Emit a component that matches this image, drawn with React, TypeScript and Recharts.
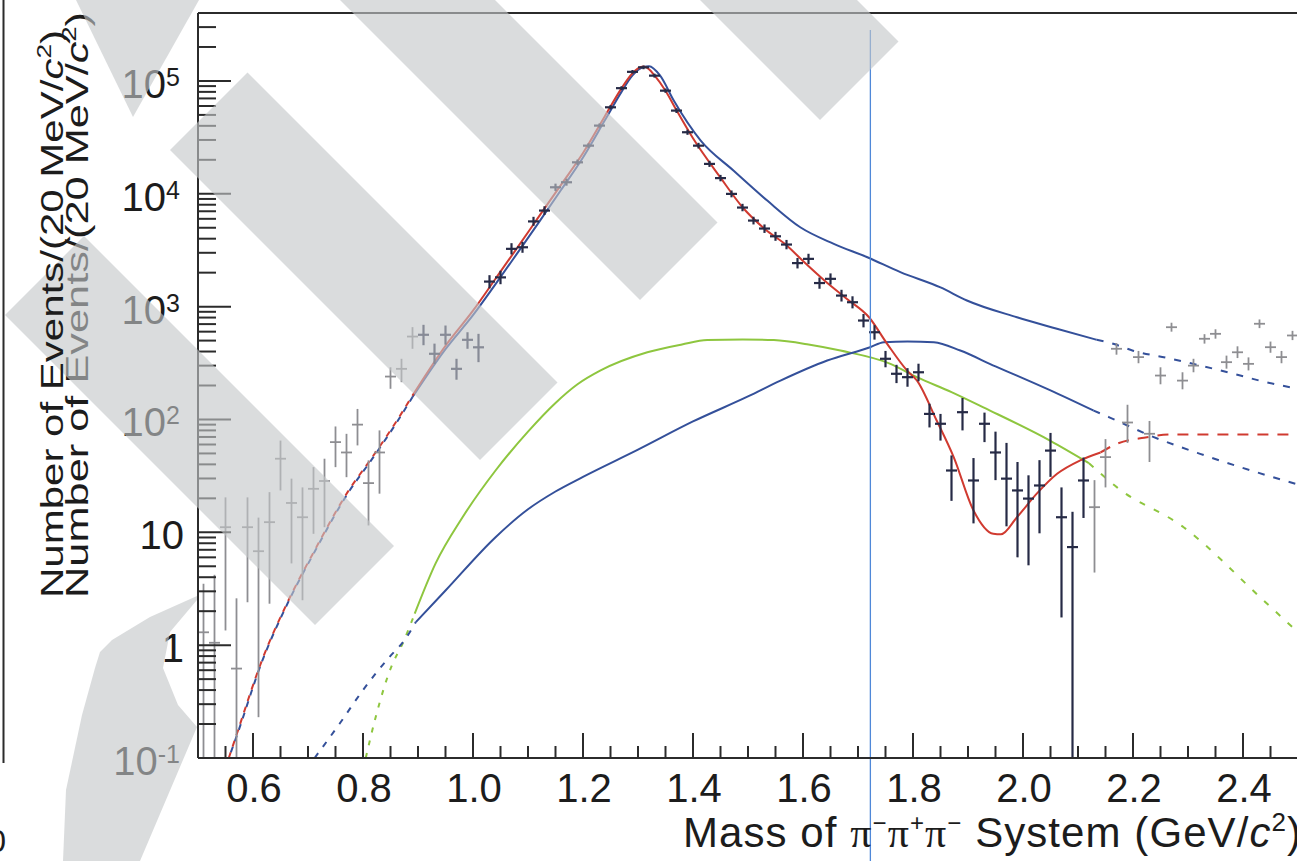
import React from 'react';
import { ComposedChart, Line, Scatter, XAxis, YAxis, ErrorBar, ReferenceLine } from 'recharts';

// ---------- axes ----------
const X_DOMAIN: [number, number] = [0.5, 2.5];
const Y_DOMAIN: [number, number] = [0.1, 4e5];
const X_MAJOR_TICKS = [0.6, 0.8, 1.0, 1.2, 1.4, 1.6, 1.8, 2.0, 2.2, 2.4];
const X_MINOR_TICKS = [0.55, 0.65, 0.7, 0.75, 0.85, 0.9, 0.95, 1.05, 1.1, 1.15, 1.25, 1.3, 1.35, 1.45, 1.5, 1.55, 1.65, 1.7, 1.75, 1.85, 1.9, 1.95, 2.05, 2.1, 2.15, 2.25, 2.3, 2.35, 2.45];
const Y_MAJOR_TICKS = [0.1, 1, 10, 100, 1000, 1e4, 1e5];
const Y_MINOR_TICKS = [
  0.2, 0.3, 0.4, 0.5, 0.6, 0.7, 0.8, 0.9,
  2, 3, 4, 5, 6, 7, 8, 9,
  20, 30, 40, 50, 60, 70, 80, 90,
  200, 300, 400, 500, 600, 700, 800, 900,
  2000, 3000, 4000, 5000, 6000, 7000, 8000, 9000,
  2e4, 3e4, 4e4, 5e4, 6e4, 7e4, 8e4, 9e4,
  2e5, 3e5,
];
const HALF_BIN = 0.01; // 20 MeV bins
const MARKER_MASS = 1.7225;

// ---------- data: events per 20 MeV bin ----------
// below the fit range
const lowTailMass = [0.51, 0.53, 0.55, 0.57, 0.59, 0.61, 0.63, 0.65, 0.67, 0.69, 0.71, 0.73, 0.75, 0.77, 0.79, 0.81, 0.83, 0.85, 0.87, 0.89];
const lowTailEvents = [1.3, 1.05, 11.1, 0.62, 11.1, 6.8, 12.3, 44.9, 18.2, 13.6, 24.3, 28.5, 63, 51, 90, 27.3, 51, 240, 281, 543];
const lowTailLower = [0.1, 0.1, 1.35, 0.1, 2.4, 0.23, 2.33, 23.5, 5.3, 2.5, 9.7, 11.1, 37.8, 30.8, 58.9, 11.5, 22, 187, 214, 423];
const lowTailUpper = [3.5, 4.2, 20.4, 2.6, 20.4, 13.5, 22.7, 65, 29.9, 25, 37.8, 44.9, 86.7, 74.6, 124, 43.4, 80, 290, 345, 658];

// inside the fit range
const fitMass = [
  0.91, 0.93, 0.95, 0.97, 0.99, 1.01, 1.03, 1.05, 1.07, 1.09, 1.11, 1.13, 1.15, 1.17, 1.19, 1.21, 1.23, 1.25, 1.27, 1.29,
  1.31, 1.33, 1.35, 1.37, 1.39, 1.41, 1.43, 1.45, 1.47, 1.49, 1.51, 1.53, 1.55, 1.57, 1.59, 1.61, 1.63, 1.65, 1.67, 1.69,
  1.71, 1.73, 1.75, 1.77, 1.79, 1.81, 1.83, 1.85, 1.87, 1.89, 1.91, 1.93, 1.95, 1.97, 1.99, 2.01, 2.03, 2.05, 2.07, 2.09, 2.11,
];
const fitEvents = [
  563, 382, 563, 281, 508, 436, 1667, 1816, 3251, 3357, 5690, 7100, 11420, 12650, 19000, 26700, 40200, 58400, 86300, 120400,
  132000, 111400, 82000, 54600, 35100, 26700, 18400, 13770, 9980, 7550, 5790, 4920, 4200, 3550, 2430, 2650, 1618, 1763, 1253, 1094,
  753, 593, 345, 254, 237, 262, 112, 91.6, 35.3, 116, 28.8, 91.6, 51, 29.9, 23.5, 19.9, 26, 53, 13.6, 7.4, 28.8,
];
const fitLower = [
  455, 310, 460, 225, 423, 322, 1450, 1580, 2900, 3000, 5200, 6500, 10600, 11800, 18000, 25500, 38500, 56000, 83000, 116000,
  127000, 107000, 78500, 52000, 33300, 25200, 17300, 12900, 9300, 7000, 5350, 4500, 3830, 3220, 2180, 2380, 1440, 1570, 1110, 965,
  655, 510, 290, 210, 195, 218, 85, 65, 19, 80, 12, 63, 29, 11.3, 6, 5.1, 9.8, 31, 1.76, 0.1, 13.4,
];
const fitUpper = [
  690, 470, 680, 345, 593, 574, 1900, 2080, 3650, 3750, 6250, 7750, 12300, 13600, 20100, 28000, 42000, 61000, 89700, 125000,
  137000, 116000, 85700, 57300, 37000, 28300, 19600, 14700, 10700, 8150, 6260, 5350, 4600, 3900, 2700, 2940, 1810, 1970, 1410, 1235,
  860, 685, 405, 305, 285, 312, 138, 112, 48, 155, 45.5, 115, 78, 62, 42, 32, 43.6, 76, 25, 15.2, 46,
];

// above the fit range
const highTailMass = [2.13, 2.15, 2.17, 2.19, 2.21, 2.23, 2.25, 2.27, 2.29, 2.31, 2.33, 2.35, 2.37, 2.39, 2.41, 2.43, 2.45, 2.47, 2.49];
const highTailEvents = [16.7, 46.4, 423, 94, 357, 74.7, 245, 657, 221, 300, 519, 574, 322, 394, 311, 705, 437, 357, 555];
const highTailLower = [4.4, 25, 375, 62, 315, 42, 205, 600, 185, 262, 470, 520, 282, 350, 272, 645, 390, 315, 505];
const highTailUpper = [29, 67, 475, 135, 405, 97, 290, 720, 262, 345, 570, 630, 368, 445, 355, 770, 490, 405, 610];

// ---------- fit curves ----------
const totalFitMass = [0.89, 0.95, 1.0, 1.04, 1.08, 1.12, 1.16, 1.2, 1.24, 1.27, 1.29, 1.3, 1.31, 1.32, 1.33, 1.35, 1.37, 1.4, 1.45, 1.49, 1.53, 1.57, 1.6, 1.64, 1.68, 1.72, 1.753, 1.789, 1.807, 1.843, 1.874, 1.91, 1.946, 1.96, 1.989, 2.025, 2.062, 2.104, 2.141];
const totalFitValue = [163, 450, 920, 1740, 3300, 6300, 12000, 23000, 49000, 86000, 117000, 129000, 134000, 127000, 112000, 82000, 55000, 31000, 13900, 7600, 4900, 3500, 2540, 1690, 1170, 805, 468, 272, 222, 98, 46.4, 15.6, 9.7, 9.6, 13.6, 22, 33, 43.4, 51];
const totalLowExtMass = [0.556, 0.569, 0.6175, 0.663, 0.714, 0.772, 0.817, 0.86, 0.89];
const totalLowExtValue = [0.1, 0.155, 0.76, 2.41, 7.2, 22.7, 46.4, 95, 163];
const totalHighExtMass = [2.141, 2.171, 2.22, 2.273, 2.35, 2.5];
const totalHighExtValue = [51, 61, 69, 73.6, 73.6, 73.6];

const waveAMass = [0.89, 0.95, 1.0, 1.04, 1.08, 1.12, 1.16, 1.2, 1.24, 1.27, 1.29, 1.31, 1.32, 1.34, 1.365, 1.414, 1.474, 1.535, 1.595, 1.656, 1.717, 1.777, 1.85, 1.898, 1.989, 2.06, 2.134];
const waveAValue = [158, 420, 840, 1560, 2950, 5600, 10800, 21000, 45000, 80000, 112000, 133000, 135000, 112000, 67000, 29600, 16000, 8700, 5050, 3600, 2740, 2020, 1480, 1133, 805, 640, 508];
const waveALowExtMass = [0.556, 0.569, 0.6175, 0.663, 0.714, 0.772, 0.817, 0.86, 0.89];
const waveALowExtValue = [0.1, 0.15, 0.74, 2.35, 7.0, 22, 45, 92, 158];
const waveAHighExtMass = [2.134, 2.164, 2.2, 2.267, 2.322, 2.395, 2.43, 2.5];
const waveAHighExtValue = [508, 468, 407, 347, 301, 245, 221, 187];

const waveBMass = [0.896, 0.95, 1.041, 1.1, 1.15, 1.2, 1.3, 1.4, 1.5, 1.559, 1.644, 1.722, 1.747, 1.79, 1.838, 1.886, 1.95, 1.989, 2.05, 2.128];
const waveBValue = [1.6, 3.05, 9.06, 16, 23, 31, 54, 96, 160, 221, 333, 437, 484, 492, 484, 408, 295, 245, 181, 120];
const waveBLowExtMass = [0.712, 0.757, 0.8, 0.848, 0.875, 0.896];
const waveBLowExtValue = [0.1, 0.2, 0.4, 0.785, 1.1, 1.6];
const waveBHighExtMass = [2.128, 2.158, 2.231, 2.322, 2.395, 2.5];
const waveBHighExtValue = [120, 104, 72, 49.6, 37.8, 26.5];

const waveCMass = [0.894, 0.932, 0.981, 1.041, 1.1, 1.15, 1.19, 1.232, 1.317, 1.38, 1.426, 1.49, 1.547, 1.61, 1.668, 1.759, 1.807, 1.87, 1.928, 2.049, 2.12];
const waveCValue = [1.9, 5.3, 13.6, 35.3, 78, 140, 205, 272, 394, 462, 505, 512, 505, 462, 408, 311, 237, 175, 128, 65, 41];
const waveCLowExtMass = [0.805, 0.823, 0.854, 0.869, 0.894];
const waveCLowExtValue = [0.1, 0.23, 0.69, 0.96, 1.9];
const waveCHighExtMass = [2.12, 2.171, 2.292, 2.437, 2.5];
const waveCHighExtValue = [41, 25, 11.1, 2.5, 1.3];

// ---------- styling ----------
const FONT = "'Liberation Sans', Arial, Helvetica, sans-serif";
const SERIF = "'Liberation Serif', 'DejaVu Serif', serif";
const INK = '#1c1c1c';
const AXIS = '#2b2b2b';
const RED = '#d03a30';
const BLUE = '#34509a';
const GREEN = '#8ec63f';
const DATA_DARK = '#262a46';
const DATA_GRAY = '#8e8e92';

const curve = (xs: number[], ys: number[]) => xs.map((x, i) => ({ x, y: ys[i] }));
const points = (xs: number[], ys: number[], lo: number[], hi: number[]) =>
  xs.map((x, i) => ({ x, y: ys[i], ex: HALF_BIN, ey: [ys[i] - lo[i], hi[i] - ys[i]] }));

const lowTail = points(lowTailMass, lowTailEvents, lowTailLower, lowTailUpper);
const fitRange = points(fitMass, fitEvents, fitLower, fitUpper);
const highTail = points(highTailMass, highTailEvents, highTailLower, highTailUpper);

const isIn = (list: number[], v: number) => list.some((t) => Math.abs(t - v) < 1e-9);

const XTick = (props: any) => {
  const { x, y, payload } = props;
  const v = payload.value as number;
  const major = isIn(X_MAJOR_TICKS, v);
  return (
    <g>
      <line x1={x} x2={x} y1={y} y2={y - (major ? 25 : 12)} stroke={AXIS} strokeWidth={2} />
      {major && (
        <text x={x + 1} y={y + 44} textAnchor="middle" fontFamily={FONT} fontSize={40} fill={INK}>
          {v.toFixed(1)}
        </text>
      )}
    </g>
  );
};

const YTick = (props: any) => {
  const { x, y, payload } = props;
  const v = payload.value as number;
  const major = isIn(Y_MAJOR_TICKS, v);
  const axisX = x + 16;
  const exp = Math.round(Math.log10(v));
  let label: React.ReactNode = null;
  if (major) {
    if (exp === 0 || exp === 1) {
      label = (
        <text x={x + 2} y={y + 17} textAnchor="end" fontFamily={FONT} fontSize={40} fill={INK}>
          {exp === 0 ? '1' : '10'}
        </text>
      );
    } else {
      label = (
        <text x={x - 2} y={y + 17} textAnchor="end" fontFamily={FONT} fontSize={40} fill={INK}>
          10
          <tspan fontSize={25} dy={-12}>{exp < 0 ? `-${-exp}` : `${exp}`}</tspan>
        </text>
      );
    }
  }
  return (
    <g>
      <line x1={axisX} x2={axisX + (major ? 33 : 18)} y1={y} y2={y} stroke={AXIS} strokeWidth={2} />
      {label}
    </g>
  );
};

const noMarker = () => <g />;

const markerLine = (p: any) => {
  const top = Math.min(p.y1, p.y2);
  const bottom = Math.max(p.y1, p.y2);
  return <line x1={p.x1} x2={p.x2} y1={top + 17} y2={bottom + 103} stroke="#4f88d8" strokeWidth={1.3} />;
};

// diagonal watermark stripes, given in (x - y, x + y) coordinates
const stripes: [number, number, number, number][] = [
  [20, 175, 320, 940],
  [340, 495, 320, 940],
  [700, 857, 320, 940],
  [-310, -152, 320, 940],
];
const stripePoints = ([d0, d1, s0, s1]: [number, number, number, number]) =>
  [[d0, s0], [d1, s0], [d1, s1], [d0, s1]].map(([d, s]) => `${(s + d) / 2},${(s - d) / 2}`).join(' ');
const cornerTip = '76,0 199,0 133,117';
const hookShape = '197,596 197,600 170,632 163,668 178,705 197,727 140,861 63,861 66,790 82,715 95,668 100,652 112,640 150,617';

const yTitle = (baseX: number, length: number) => (
  <text
    transform="rotate(-90)"
    x={-598}
    y={baseX}
    fontFamily={FONT}
    fontSize={32}
    fill={INK}
    textLength={length}
    lengthAdjust="spacingAndGlyphs"
  >
    Number of Events/(20 MeV/<tspan fontStyle="italic">c</tspan>
    <tspan fontSize={20} dy={-12}>2</tspan>
    <tspan dy={12}>)</tspan>
  </text>
);

const lineProps = {
  xAxisId: 'm',
  yAxisId: 'm',
  dataKey: 'y',
  type: 'monotone' as const,
  dot: false,
  activeDot: false,
  isAnimationActive: false,
  strokeWidth: 2,
};

export default function App() {
  return (
    <div style={{ position: 'fixed', left: 0, top: 0, width: 1297, height: 861, overflow: 'hidden', background: '#fff' }}>
      <div style={{ position: 'absolute', left: 0, top: 0 }}>
        <ComposedChart width={1300} height={861} margin={{ top: 13, right: 2, bottom: 0, left: 0 }}>
          <XAxis
            xAxisId="m"
            type="number"
            dataKey="x"
            domain={X_DOMAIN}
            allowDataOverflow
            ticks={[...X_MAJOR_TICKS, ...X_MINOR_TICKS].sort((a, b) => a - b)}
            interval={0}
            tickLine={false}
            tickSize={0}
            tickMargin={0}
            height={103}
            axisLine={{ stroke: AXIS, strokeWidth: 2 }}
            tick={XTick}
          />
          <YAxis
            yAxisId="m"
            type="number"
            dataKey="y"
            scale="log"
            domain={Y_DOMAIN}
            allowDataOverflow
            ticks={[...Y_MAJOR_TICKS, ...Y_MINOR_TICKS].sort((a, b) => a - b)}
            interval={0}
            tickLine={false}
            tickSize={0}
            tickMargin={16}
            width={198}
            axisLine={{ stroke: AXIS, strokeWidth: 2 }}
            tick={YTick}
          />
          <ReferenceLine xAxisId="m" yAxisId="m" y={4e5} stroke={AXIS} strokeWidth={2} />

          {/* wave C */}
          <Line {...lineProps} data={curve(waveCLowExtMass, waveCLowExtValue)} stroke={GREEN} strokeDasharray="5 8" />
          <Line {...lineProps} data={curve(waveCMass, waveCValue)} stroke={GREEN} />
          <Line {...lineProps} data={curve(waveCHighExtMass, waveCHighExtValue)} stroke={GREEN} strokeDasharray="6 10" />

          {/* wave B */}
          <Line {...lineProps} data={curve(waveBLowExtMass, waveBLowExtValue)} stroke={BLUE} strokeDasharray="6 8" />
          <Line {...lineProps} data={curve(waveBMass, waveBValue)} stroke={BLUE} />
          <Line {...lineProps} data={curve(waveBHighExtMass, waveBHighExtValue)} stroke={BLUE} strokeDasharray="7 9" />

          {/* wave A */}
          <Line {...lineProps} data={curve(waveALowExtMass, waveALowExtValue)} stroke={BLUE} strokeDasharray="6 6" strokeDashoffset={6} />
          <Line {...lineProps} data={curve(waveAMass, waveAValue)} stroke={BLUE} />
          <Line {...lineProps} data={curve(waveAHighExtMass, waveAHighExtValue)} stroke={BLUE} strokeDasharray="7 9" />

          {/* total fit */}
          <Line {...lineProps} data={curve(totalLowExtMass, totalLowExtValue)} stroke={RED} strokeDasharray="6 6" />
          <Line {...lineProps} data={curve(totalFitMass, totalFitValue)} stroke={RED} />
          <Line {...lineProps} data={curve(totalHighExtMass, totalHighExtValue)} stroke={RED} strokeDasharray="11 9" />

          {/* measured spectrum */}
          <Scatter xAxisId="m" yAxisId="m" data={lowTail} dataKey="y" isAnimationActive={false} shape={noMarker}>
            <ErrorBar dataKey="ex" direction="x" width={0} stroke={DATA_GRAY} strokeWidth={1.8} isAnimationActive={false} />
            <ErrorBar dataKey="ey" direction="y" width={0} stroke={DATA_GRAY} strokeWidth={1.8} isAnimationActive={false} />
          </Scatter>
          <Scatter xAxisId="m" yAxisId="m" data={fitRange} dataKey="y" isAnimationActive={false} shape={noMarker}>
            <ErrorBar dataKey="ex" direction="x" width={0} stroke={DATA_DARK} strokeWidth={2.2} isAnimationActive={false} />
            <ErrorBar dataKey="ey" direction="y" width={0} stroke={DATA_DARK} strokeWidth={2.2} isAnimationActive={false} />
          </Scatter>
          <Scatter xAxisId="m" yAxisId="m" data={highTail} dataKey="y" isAnimationActive={false} shape={noMarker}>
            <ErrorBar dataKey="ex" direction="x" width={0} stroke={DATA_GRAY} strokeWidth={1.8} isAnimationActive={false} />
            <ErrorBar dataKey="ey" direction="y" width={0} stroke={DATA_GRAY} strokeWidth={1.8} isAnimationActive={false} />
          </Scatter>

          <ReferenceLine xAxisId="m" yAxisId="m" x={MARKER_MASS} shape={markerLine} />
        </ComposedChart>
      </div>

      <svg width={1297} height={861} style={{ position: 'absolute', left: 0, top: 0, pointerEvents: 'none' }}>
        {/* edge of the neighbouring panel */}
        <line x1={3.5} x2={3.5} y1={0} y2={763} stroke={AXIS} strokeWidth={2} />
        <text x={6} y={852} textAnchor="end" fontFamily={FONT} fontSize={32} fill={INK}>0</text>

        {yTitle(88, 586)}

        <text x={683} y={847} fontFamily={FONT} fontSize={42} fill={INK} textLength={618} lengthAdjust="spacing">
          Mass of{' '}
          <tspan fontFamily={SERIF}>π</tspan>
          <tspan fontSize={24} dy={-16}>−</tspan>
          <tspan dy={16} fontFamily={SERIF}>π</tspan>
          <tspan fontSize={24} dy={-16}>+</tspan>
          <tspan dy={16} fontFamily={SERIF}>π</tspan>
          <tspan fontSize={24} dy={-16}>−</tspan>
          <tspan dy={16}> System (GeV/</tspan>
          <tspan fontStyle="italic">c</tspan>
          <tspan fontSize={26} dy={-16}>2</tspan>
          <tspan dy={16}>)</tspan>
        </text>

        {/* watermark */}
        <g fill="rgb(196,198,200)" fillOpacity={0.62}>
          {stripes.map((s, i) => (
            <polygon key={i} points={stripePoints(s)} />
          ))}
          <polygon points={cornerTip} />
          <polygon points={hookShape} />
        </g>

        {yTitle(63, 568)}
      </svg>
    </div>
  );
}
